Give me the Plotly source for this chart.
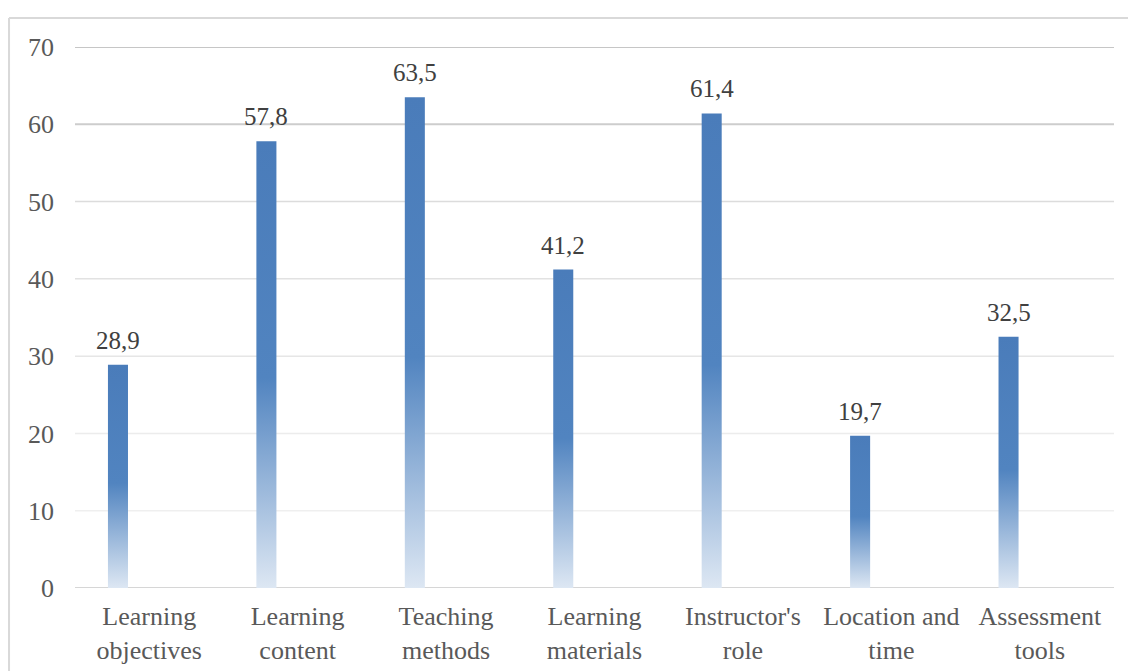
import plotly.graph_objects as go

categories = ["Learning<br>objectives", "Learning<br>content", "Teaching<br>methods",
              "Learning<br>materials", "Instructor's<br>role", "Location and<br>time",
              "Assessment<br>tools"]
values = [28.9, 57.8, 63.5, 41.2, 61.4, 19.7, 32.5]
y_ticks = [0, 10, 20, 30, 40, 50, 60, 70]
grid_colors = ["#d6d6d6", "#efefef", "#ececec", "#e6e6e6", "#e2e2e2", "#dcdcdc", "#cdcdcd", "#c6c6c6"]

BAR_W = 0.135
BAR_OFF = -0.278
FONT = "Liberation Serif, Times New Roman, serif"

idx = list(range(len(values)))

fig = go.Figure()

fig.add_trace(go.Bar(
    x=idx, y=values, width=BAR_W, offset=BAR_OFF,
    marker=dict(color="rgba(79,129,189,0)", line=dict(width=0)),
    showlegend=False, hoverinfo="y",
))

gradient = [[0.0, "#dde7f3"], [0.47, "#5184c0"], [1.0, "#4a7cba"]]
for i, v in zip(idx, values):
    x0 = i + BAR_OFF
    x1 = x0 + BAR_W
    fig.add_trace(go.Scatter(
        x=[x0, x0, x1, x1, x0], y=[0, v, v, 0, 0],
        mode="lines", fill="toself",
        fillgradient=dict(type="vertical", colorscale=gradient),
        line=dict(width=0, color="rgba(0,0,0,0)"),
        showlegend=False, hoverinfo="skip",
    ))

for i, v in zip(idx, values):
    fig.add_annotation(
        x=i + BAR_OFF + BAR_W / 2, y=v, xref="x", yref="y",
        text=f"{v:.1f}".replace(".", ","), showarrow=False,
        yanchor="bottom", yshift=9,
        font=dict(family=FONT, size=25, color="#404040"),
    )

shapes = []
for t, c in zip(y_ticks, grid_colors):
    shapes.append(dict(type="line", xref="paper", yref="y", x0=0, x1=1, y0=t, y1=t,
                       line=dict(color=c, width=2 if t >= 60 or t == 0 else 1.5),
                       layer="below"))
# outer chart frame (top and left edges visible)
shapes.append(dict(type="line", xref="paper", yref="paper", x0=-0.0635, x1=1.02,
                   y0=1.0536, y1=1.0536, line=dict(color="#d9d9d9", width=2), layer="below"))
shapes.append(dict(type="line", xref="paper", yref="paper", x0=-0.0635, x1=-0.0635,
                   y0=1.0536, y1=-0.16, line=dict(color="#d9d9d9", width=2), layer="below"))

fig.update_layout(
    width=1128, height=671,
    margin=dict(l=75, r=14, t=47, b=83),
    paper_bgcolor="white", plot_bgcolor="white",
    shapes=shapes,
    font=dict(family=FONT, color="#595959"),
    xaxis=dict(range=[-0.5, 6.5], tickvals=idx, ticktext=categories,
               showgrid=False, zeroline=False, showline=False, ticks="",
               ticklabelstandoff=10, automargin=False,
               tickfont=dict(size=26, color="#595959"), fixedrange=True),
    yaxis=dict(range=[0, 70], tickvals=y_ticks, showgrid=False, zeroline=False,
               showline=False, ticks="", ticklabelstandoff=20, automargin=False,
               tickfont=dict(size=26, color="#595959"), fixedrange=True),
    bargap=0,
)

fig.write_html("out.html")
